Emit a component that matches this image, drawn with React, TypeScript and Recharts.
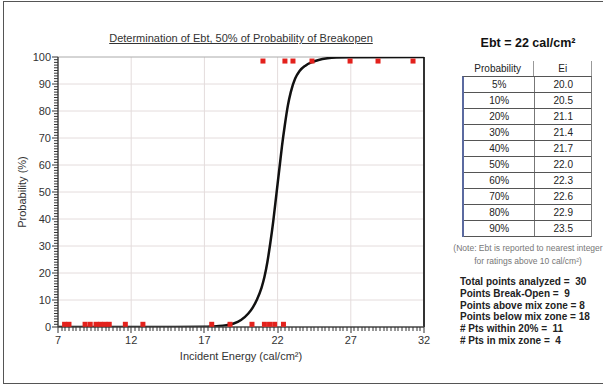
import { ComposedChart, Line, Scatter, XAxis, YAxis, CartesianGrid, ReferenceLine } from 'recharts';

// fitted curve
const curveEnergy = [7, 12, 15, 17, 17.5, 18, 18.5, 19, 19.5, 20, 20.3, 20.6, 20.9, 21.1, 21.3, 21.5, 21.7, 21.85, 22.0, 22.15, 22.3, 22.5, 22.7, 22.9, 23.2, 23.5, 23.9, 24.3, 24.8, 25.4, 26, 27, 32];
const curveProb = [0, 0, 0.02, 0.1, 0.2, 0.35, 0.7, 1.3, 2.6, 5, 7.2, 10.3, 14.5, 18.5, 24, 31, 39, 46, 53, 60, 67, 75, 82, 87, 92, 94.8, 96.8, 98, 98.9, 99.5, 99.8, 99.95, 100];

// test points that broke open (plotted at top)
const breakOpenEnergy = [21.0, 22.5, 23.05, 24.35, 26.95, 28.86, 31.25];
const breakOpenProb = [98.5, 98.5, 98.5, 98.5, 98.5, 98.5, 98.5];

// test points that did not break open (plotted at bottom)
const noBreakEnergy = [7.45, 7.75, 8.85, 9.2, 9.6, 9.9, 10.2, 10.5, 11.6, 12.8, 17.5, 18.75, 20.25, 21.1, 21.45, 21.8, 22.4];
const noBreakProb = [1, 1, 1, 1, 1, 1, 1, 1, 1, 1, 1, 1, 1, 1, 1, 1, 1];

const xMajorTicks = [7, 12, 17, 22, 27, 32];
const yMajorTicks = [0, 10, 20, 30, 40, 50, 60, 70, 80, 90, 100];

const tableProb = ['5%', '10%', '20%', '30%', '40%', '50%', '60%', '70%', '80%', '90%'];
const tableEi = ['20.0', '20.5', '21.1', '21.4', '21.7', '22.0', '22.3', '22.6', '22.9', '23.5'];

const statLabels = [
  'Total points analyzed =  ',
  'Points Break-Open =  ',
  'Points above mix zone = ',
  'Points below mix zone = ',
  '# Pts within 20% =  ',
  '# Pts in mix zone =  ',
];
const statValues = ['30', '9', '8', '18', '11', '4'];

const curveData = curveEnergy.map((x, i) => ({ x, p: curveProb[i] }));
const breakData = breakOpenEnergy.map((x, i) => ({ x, p: breakOpenProb[i] }));
const noBreakData = noBreakEnergy.map((x, i) => ({ x, p: noBreakProb[i] }));

// minor x ticks every 0.25, minor y ticks every 1
const xTicks = Array.from({ length: 101 }, (_, i) => 7 + i * 0.25);
const yTicks = Array.from({ length: 101 }, (_, i) => i);

const FONT = '"Liberation Sans", Arial, sans-serif';

const XTick = (props: any) => {
  const { x, y, payload } = props;
  const major = xMajorTicks.includes(payload.value);
  return (
    <g>
      <rect x={Math.round(x) - 0.5} y={y} width={1} height={major ? 6 : 4} fill="#333" />
      {major && (
        <text x={x} y={y + 17} textAnchor="middle" fontSize={11} fill="#333" fontFamily={FONT}>
          {payload.value}
        </text>
      )}
    </g>
  );
};

const YTick = (props: any) => {
  const { x, y, payload } = props;
  const major = yMajorTicks.includes(payload.value);
  return (
    <g>
      <line x1={x - (major ? 6 : 4)} x2={x} y1={y} y2={y} stroke="#333" strokeWidth={1} />
      {major && (
        <text x={x - 7} y={y + 4} textAnchor="end" fontSize={11} fill="#333" fontFamily={FONT}>
          {payload.value}
        </text>
      )}
    </g>
  );
};

const RedSquare = (props: any) => {
  const { cx, cy } = props;
  return <rect x={cx - 2.5} y={cy - 2.5} width={5} height={5} fill="#e3211c" />;
};

export default function App() {
  return (
    <div
      style={{
        position: 'absolute',
        left: 0,
        top: 0,
        width: 603,
        height: 384,
        background: '#fff',
        fontFamily: FONT,
        overflow: 'hidden',
      }}
    >
      <div
        style={{
          position: 'absolute',
          left: 3,
          top: 1,
          width: 610,
          height: 381,
          border: '1.5px solid #555',
        }}
      />
      <div style={{ position: 'absolute', left: 0, top: 0 }}>
        <ComposedChart width={440} height={384} margin={{ top: 57, right: 16, bottom: 37, left: 18 }}>
          <CartesianGrid
            stroke="#e4dcdc"
            verticalValues={[12, 17, 22, 27]}
            horizontalValues={[10, 20, 30, 40, 50, 60, 70, 80, 90]}
          />
          <XAxis
            type="number"
            dataKey="x"
            domain={[7, 32]}
            ticks={xTicks}
            interval={0}
            minTickGap={0}
            tick={<XTick />}
            tickLine={false}
            tickSize={0}
            tickMargin={0}
            axisLine={{ stroke: '#444', strokeWidth: 1.5 }}
            height={20}
            allowDataOverflow
          />
          <YAxis
            type="number"
            dataKey="p"
            domain={[0, 100]}
            ticks={yTicks}
            interval={0}
            tick={<YTick />}
            tickLine={false}
            tickSize={0}
            tickMargin={0}
            axisLine={{ stroke: '#444', strokeWidth: 1.5 }}
            width={40}
            allowDataOverflow
          />
          <ReferenceLine y={100} stroke="#aaa" strokeWidth={1} />
          <ReferenceLine x={32} stroke="#333" strokeWidth={2} />
          <Line
            data={curveData}
            dataKey="p"
            type="monotone"
            stroke="#111"
            strokeWidth={2.5}
            dot={false}
            isAnimationActive={false}
          />
          <Scatter data={breakData} dataKey="p" shape={<RedSquare />} isAnimationActive={false} />
          <Scatter data={noBreakData} dataKey="p" shape={<RedSquare />} isAnimationActive={false} />
        </ComposedChart>
      </div>

      <div
        style={{
          position: 'absolute',
          left: 58,
          width: 366,
          top: 350,
          textAlign: 'center',
          fontSize: 11,
          color: '#333',
        }}
      >
        Incident Energy (cal/cm²)
      </div>
      <div
        style={{
          position: 'absolute',
          left: 58,
          width: 366,
          top: 32,
          textAlign: 'center',
          fontSize: 11,
          color: '#333',
          textDecoration: 'underline',
        }}
      >
        Determination of Ebt, 50% of Probability of Breakopen
      </div>
      <div
        style={{
          position: 'absolute',
          left: 22,
          top: 192,
          transform: 'translate(-50%, -50%) rotate(-90deg)',
          fontSize: 11,
          color: '#333',
          whiteSpace: 'nowrap',
        }}
      >
        Probability (%)
      </div>

      <div
        style={{
          position: 'absolute',
          left: 440,
          width: 176,
          top: 36,
          textAlign: 'center',
          fontSize: 12.5,
          fontWeight: 'bold',
          color: '#111',
        }}
      >
        Ebt = 22 cal/cm²
      </div>

      <div style={{ position: 'absolute', left: 462, top: 61, width: 130 }}>
        <div style={{ display: 'flex', height: 15, fontSize: 10, color: '#222', lineHeight: '15px' }}>
          <div style={{ width: 72, textAlign: 'center', borderRight: '1px solid #999' }}>Probability</div>
          <div style={{ width: 57, textAlign: 'center', borderRight: '1px solid #999' }}>Ei</div>
        </div>
        <div style={{ borderLeft: '2px solid #5b6aa0', borderTop: '1px solid #555', borderRight: '1px solid #777' }}>
          {tableProb.map((p, i) => (
            <div
              key={p}
              style={{
                display: 'flex',
                height: 15,
                fontSize: 10,
                lineHeight: '15px',
                color: '#222',
                borderBottom: '1px solid #555',
              }}
            >
              <div style={{ width: 71, textAlign: 'center', borderRight: '1px solid #777' }}>{p}</div>
              <div style={{ width: 56, textAlign: 'center' }}>{tableEi[i]}</div>
            </div>
          ))}
        </div>
      </div>

      <div
        style={{
          position: 'absolute',
          left: 440,
          width: 176,
          top: 242,
          textAlign: 'center',
          fontSize: 8.5,
          color: '#777',
          lineHeight: '13px',
          whiteSpace: 'nowrap',
        }}
      >
        (Note: Ebt is reported to nearest integer
        <br />
        for ratings above 10 cal/cm²)
      </div>

      <div style={{ position: 'absolute', left: 460, top: 276, fontSize: 10, fontWeight: 'bold', color: '#222', lineHeight: '11.8px' }}>
        {statLabels.map((l, i) => (
          <div key={l} style={{ whiteSpace: 'pre' }}>
            {l}
            {statValues[i]}
          </div>
        ))}
      </div>
    </div>
  );
}
